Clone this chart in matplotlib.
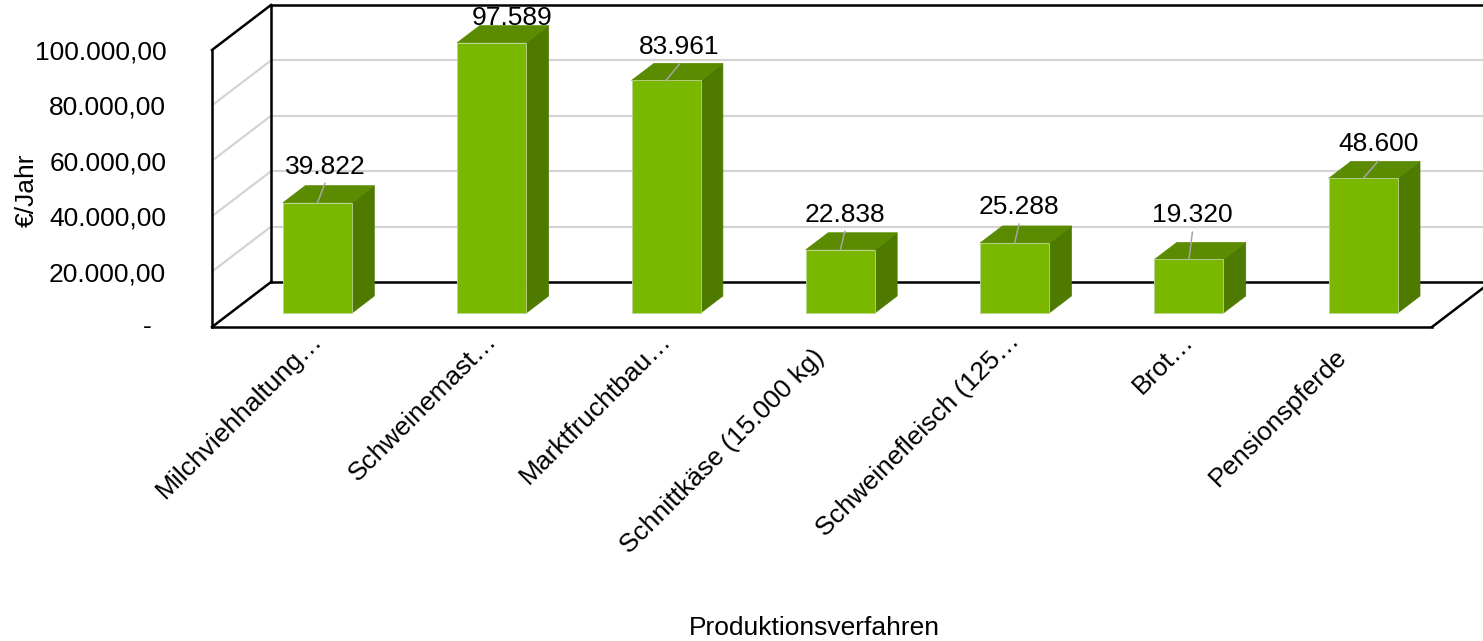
import matplotlib
matplotlib.use("Agg")
import matplotlib.pyplot as plt
from matplotlib.patches import Polygon

# ---- data -------------------------------------------------------------
categories = [
    "Milchviehhaltung…",
    "Schweinemast…",
    "Marktfruchtbau…",
    "Schnittkäse (15.000 kg)",
    "Schweinefleisch (125…",
    "Brot…",
    "Pensionspferde",
]
values = [39822, 97589, 83961, 22838, 25288, 19320, 48600]
y_ticks = [0, 20000, 40000, 60000, 80000, 100000]
y_title = "€/Jahr"
x_title = "Produktionsverfahren"

# ---- layout / style ---------------------------------------------------
# data-label placement: horizontal shift and rise above the bar top (pixels)
label_dx = [7.5, 20, 13.5, 4.5, 4.5, 3.5, 15]
label_rise = [29, 18, 26, 28, 28.5, 37, 27]

FRONT = "#7ab800"
TOP = "#5b8b00"
SIDE = "#4e7a00"
GRID = "#d4d4d4"
LEADER = "#a6a6a6"
FS = 19

plt.rcParams["font.family"] = ["Liberation Sans", "DejaVu Sans"]

W, H, DPI = 1483, 641, 100
fig = plt.figure(figsize=(W / DPI, H / DPI), dpi=DPI)
fig.patch.set_facecolor("white")

# axes = front plane of the 3-D box
ax_left, ax_right, ax_bottom, ax_top = 212, 1432, 327, 50
ax = fig.add_axes([ax_left / W, (H - ax_bottom) / H,
                   (ax_right - ax_left) / W, (ax_bottom - ax_top) / H])
n = len(categories)
ymax = y_ticks[-1]
ax.set_xlim(-0.5, n - 0.5)
ax.set_ylim(0, ymax)
for s in ax.spines.values():
    s.set_visible(False)
ax.patch.set_visible(False)

# depth of the box expressed in data units
cat_px = (ax_right - ax_left) / n
val_px = (ax_bottom - ax_top) / ymax
DX = 59 / cat_px
DY = 45 / val_px

x0w, x1w = -0.5, n - 0.5

# walls and floor
ax.add_patch(Polygon([(x0w + DX, DY), (x1w + DX, DY), (x1w + DX, ymax + DY), (x0w + DX, ymax + DY)],
                     closed=True, facecolor="white", edgecolor="none", clip_on=False, zorder=0.5))
ax.add_patch(Polygon([(x0w, 0), (x0w + DX, DY), (x0w + DX, ymax + DY), (x0w, ymax)],
                     closed=True, facecolor="white", edgecolor="none", clip_on=False, zorder=0.5))

# gridlines on back wall and side wall
for v in y_ticks[1:-1]:
    ax.plot([x0w + DX, x1w + DX], [v + DY, v + DY], color=GRID, lw=1.6,
            clip_on=False, zorder=1, solid_capstyle="butt")
    ax.plot([x0w, x0w + DX], [v, v + DY], color=GRID, lw=1.6,
            clip_on=False, zorder=1, solid_capstyle="butt")

frame_kw = dict(color="black", lw=1.8, clip_on=False, zorder=2, solid_capstyle="projecting")
# back wall edges
ax.plot([x0w + DX, x0w + DX], [DY, ymax + DY], **frame_kw)
ax.plot([x0w + DX, x1w + DX], [ymax + DY, ymax + DY], **frame_kw)
ax.plot([x0w + DX, x1w + DX], [DY, DY], **frame_kw)
ax.plot([x1w + DX, x1w + DX], [DY, ymax + DY], **frame_kw)
# side wall edges
ax.plot([x0w, x0w], [0, ymax], **frame_kw)
ax.plot([x0w, x0w + DX], [ymax, ymax + DY], **frame_kw)
ax.plot([x0w, x0w + DX], [0, DY], **frame_kw)
# floor edges
ax.plot([x0w, x1w], [0, 0], **frame_kw)
ax.plot([x1w, x1w + DX], [0, DY], **frame_kw)

# ---- 3-D columns --------------------------------------------------------
d0, d1 = 0.311, 0.689
bw = 69 / cat_px
centers = [i + d0 * DX for i in range(n)]
base = d0 * DY
ddx = (d1 - d0) * DX
ddy = (d1 - d0) * DY

for i, v in enumerate(values):
    xl = centers[i] - bw / 2
    xr = centers[i] + bw / 2
    yt = base + v
    ax.add_patch(Polygon([(xr, base), (xr + ddx, base + ddy), (xr + ddx, yt + ddy), (xr, yt)],
                         closed=True, facecolor=SIDE, edgecolor=SIDE, lw=0.5,
                         clip_on=False, zorder=3))
    ax.add_patch(Polygon([(xl, yt), (xr, yt), (xr + ddx, yt + ddy), (xl + ddx, yt + ddy)],
                         closed=True, facecolor=TOP, edgecolor=TOP, lw=0.5,
                         clip_on=False, zorder=3))

ax.bar(centers, values, width=bw, bottom=base, color=FRONT,
       edgecolor="#b9d38f", linewidth=0.6, clip_on=False, zorder=4)


def de_num(v, dec=0):
    s = f"{v:,.{dec}f}"
    return s.replace(",", "X").replace(".", ",").replace("X", ".")


# data labels with leader lines
for i, v in enumerate(values):
    top = base + v
    ax.annotate(de_num(v), xy=(centers[i], top), xytext=(label_dx[i], label_rise[i]),
                textcoords="offset pixels", ha="center", va="baseline",
                fontsize=FS, color="black", annotation_clip=False, zorder=6)
    lead = label_rise[i] - 9.5
    if lead > 12:
        ax.annotate("", xy=(centers[i], top), xytext=(label_dx[i], lead),
                    textcoords="offset pixels", annotation_clip=False,
                    arrowprops=dict(arrowstyle="-", color=LEADER, lw=1.1,
                                    shrinkA=0, shrinkB=0), zorder=5)

# ---- axis labels --------------------------------------------------------
ax.set_xticks([])
ax.set_yticks(y_ticks[1:])
ax.set_yticklabels([de_num(v, 2) for v in y_ticks[1:]], fontsize=FS)
ax.tick_params(axis="y", length=0, pad=33)
ax.annotate("-", xy=(x0w, 0), xytext=(-60, 0), textcoords="offset pixels",
            ha="right", va="center", fontsize=FS, annotation_clip=False)

for i, cat in enumerate(categories):
    if cat.endswith("…"):
        off = (24.5, -15)
    else:
        off = (3.5, -31)
    ax.annotate(cat, xy=(i, 0), xytext=off, textcoords="offset pixels",
                rotation=45, rotation_mode="anchor", ha="right", va="baseline",
                fontsize=FS, annotation_clip=False)

fig.text(27 / W, 1 - 190 / H, y_title, rotation=90, ha="center", va="center", fontsize=FS)
fig.text(814 / W, 1 - 628 / H, x_title, ha="center", va="center", fontsize=FS)

fig.savefig("out.png", dpi=DPI, facecolor="white")
